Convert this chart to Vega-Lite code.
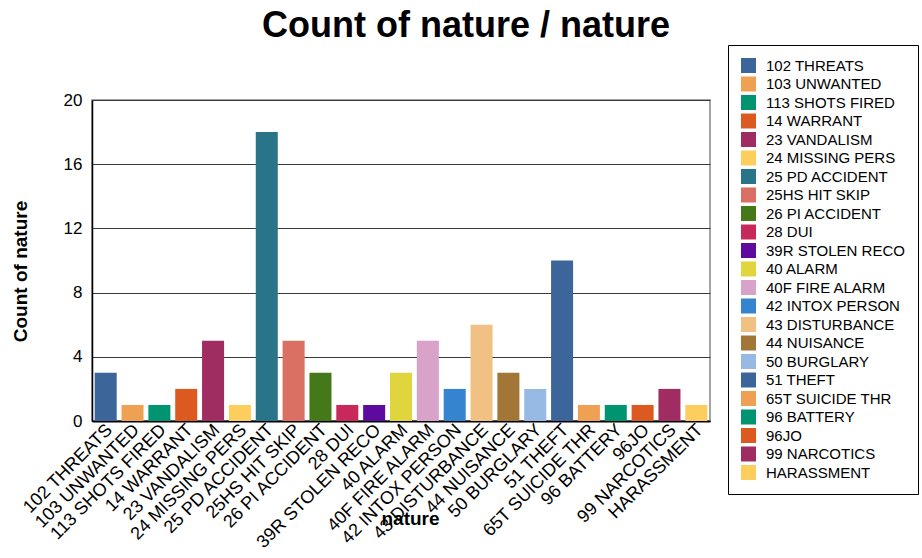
{
  "$schema": "https://vega.github.io/schema/vega-lite/v6.json",
  "autosize": {"type": "none"},
  "padding": {"left": 92, "top": 100, "right": 212, "bottom": 137},
  "width": 618,
  "height": 321,
  "background": "white",
  "title": {
    "text": "Count of nature / nature",
    "font": "Liberation Sans",
    "fontSize": 36,
    "fontWeight": "bold",
    "color": "black",
    "anchor": "middle",
    "frame": "group",
    "dx": 65,
    "offset": 0
  },
  "config": {
    "font": "Liberation Sans",
    "view": {"stroke": "#888888", "strokeWidth": 1.5}
  },
  "data": {
    "values": [
      {"nature": "102 THREATS", "count": 3},
      {"nature": "103 UNWANTED", "count": 1},
      {"nature": "113 SHOTS FIRED", "count": 1},
      {"nature": "14 WARRANT", "count": 2},
      {"nature": "23 VANDALISM", "count": 5},
      {"nature": "24 MISSING PERS", "count": 1},
      {"nature": "25 PD ACCIDENT", "count": 18},
      {"nature": "25HS HIT SKIP", "count": 5},
      {"nature": "26 PI ACCIDENT", "count": 3},
      {"nature": "28 DUI", "count": 1},
      {"nature": "39R STOLEN RECO", "count": 1},
      {"nature": "40 ALARM", "count": 3},
      {"nature": "40F FIRE ALARM", "count": 5},
      {"nature": "42 INTOX PERSON", "count": 2},
      {"nature": "43 DISTURBANCE", "count": 6},
      {"nature": "44 NUISANCE", "count": 3},
      {"nature": "50 BURGLARY", "count": 2},
      {"nature": "51 THEFT", "count": 10},
      {"nature": "65T SUICIDE THR", "count": 1},
      {"nature": "96 BATTERY", "count": 1},
      {"nature": "96JO", "count": 1},
      {"nature": "99 NARCOTICS", "count": 2},
      {"nature": "HARASSMENT", "count": 1}
    ]
  },
  "mark": {"type": "bar"},
  "encoding": {
    "x": {
      "field": "nature",
      "type": "nominal",
      "sort": null,
      "scale": {"paddingInner": 0.18, "paddingOuter": 0.1},
      "axis": {
        "title": "nature",
        "titleFont": "Liberation Sans",
        "titleFontSize": 19,
        "titleFontWeight": "bold",
        "titleColor": "black",
        "titleX": 318,
        "titleY": 88,
        "labelAngle": -45,
        "labelAlign": "right",
        "labelBaseline": "middle",
        "labelFontSize": 18,
        "labelColor": "black",
        "labelPadding": 6,
        "labelOffset": 4,
        "labelLimit": 300,
        "ticks": false,
        "domainColor": "black",
        "domainWidth": 2,
        "grid": false
      }
    },
    "y": {
      "field": "count",
      "type": "quantitative",
      "scale": {"domain": [0, 20], "nice": false},
      "axis": {
        "title": "Count of nature",
        "titleFont": "Liberation Sans",
        "titleFontSize": 19,
        "titleFontWeight": "bold",
        "titleColor": "black",
        "titleX": -72,
        "titleY": 171,
        "titleBaseline": "middle",
        "titleAlign": "center",
        "values": [0, 4, 8, 12, 16, 20],
        "labelFontSize": 17,
        "labelColor": "black",
        "labelPadding": 10,
        "ticks": false,
        "domainColor": "black",
        "domainWidth": 1.5,
        "grid": true,
        "gridColor": "#3a3a3a",
        "gridWidth": 1.2
      }
    },
    "color": {
      "field": "nature",
      "type": "nominal",
      "scale": {
        "domain": ["102 THREATS", "103 UNWANTED", "113 SHOTS FIRED", "14 WARRANT", "23 VANDALISM", "24 MISSING PERS", "25 PD ACCIDENT", "25HS HIT SKIP", "26 PI ACCIDENT", "28 DUI", "39R STOLEN RECO", "40 ALARM", "40F FIRE ALARM", "42 INTOX PERSON", "43 DISTURBANCE", "44 NUISANCE", "50 BURGLARY", "51 THEFT", "65T SUICIDE THR", "96 BATTERY", "96JO", "99 NARCOTICS", "HARASSMENT"],
        "range": ["#3C6699", "#EFA153", "#009570", "#DC5A20", "#A02D61", "#FDCD5E", "#2A7489", "#DA6F63", "#447818", "#C8285A", "#5E0A9E", "#E1D53E", "#D9A3C9", "#3584CF", "#F0C182", "#A27636", "#96BAE3", "#3C6699", "#EFA153", "#009570", "#DC5A20", "#A02D61", "#FDCD5E"]
      },
      "legend": {
        "title": null,
        "orient": "none",
        "legendX": 636,
        "legendY": -55,
        "symbolType": "square",
        "symbolSize": 225,
        "symbolStrokeWidth": 0,
        "symbolOpacity": 1,
        "labelFontSize": 15,
        "labelColor": "black",
        "labelFont": "Liberation Sans",
        "labelOffset": 10,
        "labelLimit": 200,
        "rowPadding": 2.5,
        "padding": 13,
        "strokeColor": "black",
        "fillColor": "white",
        "offset": 0
      }
    }
  }
}
